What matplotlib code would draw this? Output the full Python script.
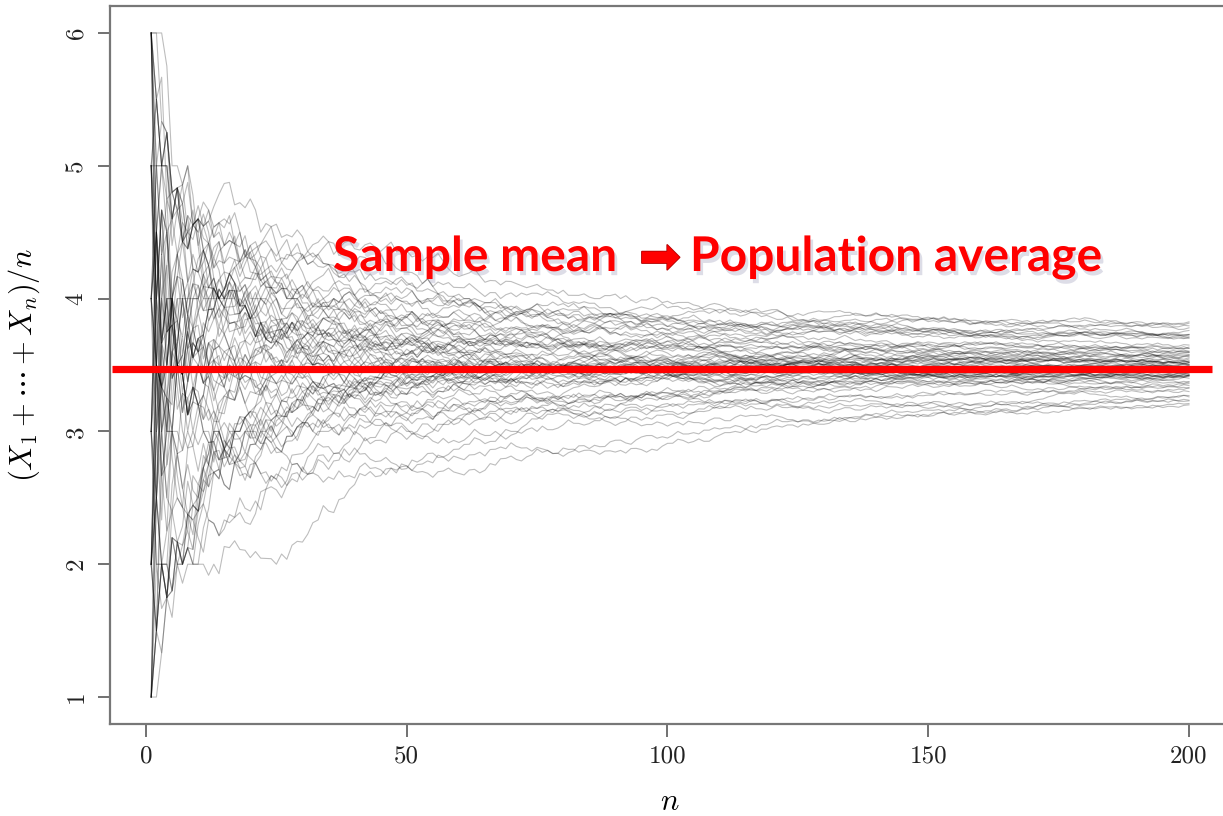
import numpy as np
import matplotlib.pyplot as plt
from matplotlib import patheffects as pe

# die rolls for each simulated sequence (200 rolls each, read left to right)
ROLLS = [
    "6645253614 3152634415 2465311362 2143125312 5163423564 "
    "1342651253 4621355214 5643625146 3214563521 6124353162 "
    "1324213521 4532616243 2356142531 5413623642 1265343152 "
    "3642153415 2312461123 5263146352 4153262514 3625143462",
    "1123141325 4532613462 3615242153 5463625416 2513462143 "
    "6341253615 2311423152 4653126341 1524363521 3462153264 "
    "5132646315 4656235461 2341563215 6153422634 1426353162 "
    "3514264513 2635141352 4361256341 5214363512 1653243426",
    "5645362465 4536461254 3612645135 6253465341 1625342153 "
    "6215432563 4653162546 5436212451 3654625461 3152463521 "
    "4156325162 5465254635 1645263415 3254165236 4562653465 "
    "2361532145 6345216341 2514635162 6453645265 3152641536",
    "2131423512 3121423512 4163215426 1321425132 6413215243 "
    "1232153412 2531462634 1254614136 2314321532 4163215265 "
    "3621451365 5342612635 4253162546 2615324631 5236142513 "
    "4641536125 1526314653 6425313624 4362514635 3152416352",
    "5536462645 6425354616 2134213531 3615242536 1423213152 "
    "6352413626 1342563415 5213462631 4652135142 3162543625 "
    "2514362143 3121241352 6453162413 2534613256 1462353164 "
    "5321462543 3615241362 5465634251 2143653162 4526131543",
    "2312133421 1521342312 4635214631 2463153125 5614326451 "
    "3125463514 6543562464 1352431625 4261356231 5134262543 "
    "2312431215 6243516134 3512462363 1463525142 4235163652 "
    "2641351436 5316242153 3624135261 1323142512 4156323641",
    "4352614263 5646354152 1632453614 2561342356 3415263154 "
    "6234152631 1213423513 5362461425 6455263465 2143561342 "
    "3625146351 4513262634 1354625136 4656354261 3261452153 "
    "5143626341 2356134625 6142353416 1635243514 4253162534",
    "2312541132 6453162534 4656352564 1243536142 3562413625 "
    "5143261346 2634152351 3121453121 4526316354 1362543162 "
    "6235143514 3416252631 5636452465 2154336241 4361252153 "
    "1322415123 5413626134 3265143562 1546232415 6324153462",
    "3562413146 2415362354 5463645264 1326541253 6545263564 "
    "2143652314 4361235162 5126343651 3254161425 4665352456 "
    "1342563216 6213454361 2536141352 4162353645 3514263142 "
    "5645246356 2361452134 6143253625 1425361543 3652142536",
    "4162534613 2311423521 5463125346 1326543152 3121425312 "
    "6352146235 2415362143 4136253514 1232153123 5643216342 "
    "3152463615 2634153421 6241356245 1453264133 2131524312 "
    "4526136254 3615243152 5143262634 2364153416 1536245263",
    "5645263546 3412563162 2536142435 6134256231 1423121352 "
    "4352613614 2613542356 5341263142 1562435263 3425162534 "
    "6213453146 4152634251 2365143612 5143262453 1634253126 "
    "3526141354 4215363462 6341252135 2453161634 5132463526",
    "6546352465 4635546215 2153462314 3561243625 1426353154 "
    "5646253465 2314561362 6132453241 4563656254 3215462153 "
    "1546232634 5362143516 6454365246 2143563152 4361252364 "
    "3516241435 1625343162 5465634526 2314653142 6253141536",
    "1213241312 2131523121 3122141532 4536126354 6241353162 "
    "1534262453 5362143615 4656356424 3125463142 2643151634 "
    "5216343525 1463252136 4352614263 6134253152 2546131634 "
    "3615242453 1352463126 5426135364 3261453142 4135262536",
    "2534613625 4163524152 6351243426 5464635256 1326451342 "
    "3542163615 2131422513 6245313462 1534263152 4362154236 "
    "6545362465 2153461324 3614253516 5231463142 1462535263 "
    "4315261634 6243152413 2561343526 3145262154 5632413462",
    "3121412523 5263146352 1231422131 6452313546 2143652431 "
    "1323125142 4561235162 3254161345 6132453624 2312143521 "
    "5416232653 1365243415 2213143123 4625136254 3152463162 "
    "6341253513 2563141426 4135263652 1652342315 3426153264",
    "6456345265 2314563142 5636452645 1253461326 4362153514 "
    "3145262634 6231452153 2564131462 1312421352 5463126341 "
    "3126543625 4253161436 1642353152 6315242463 5465364625 "
    "2136453142 3524161635 4613252341 1356243524 5241363156",
    "4251363625 1634252143 2311423152 5463126354 3152461362 "
    "6454356246 2136453125 4351262634 1562343152 3625141463 "
    "1231523213 6342153426 2513462153 5134263615 4261353142 "
    "1452636235 3614253162 6253141534 2345163426 5162433152",
    "5314263152 4656354264 2143562531 3625143416 6152432354 "
    "5465634625 1342563142 4261353516 2536141263 3121243151 "
    "5643126352 1354262413 6545463565 2413562136 3162453524 "
    "4531262643 1645233152 5236141364 3412563253 6143252415",
    "2132141533 5463126341 3152643625 1426353164 6341252513 "
    "4253163462 2615341354 1321243122 5463152634 3126543215 "
    "4352161463 6454365245 1263452136 3514263652 2461353142 "
    "5136242563 4325161534 2113421312 6345213625 1532463142",
    "3461523146 5656344625 1213421532 4362513526 2145362154 "
    "6314253463 1526341235 3452163614 5213462352 4631253146 "
    "2354161523 6142353642 1465232513 3521463164 5342161352 "
    "2613452436 4156323251 6235141634 1324563152 3542163426",
    "1312241325 5463126354 2153463162 3121412531 6245313642 "
    "1534263125 4362153514 2615341263 1232134121 5463152634 "
    "3126543462 4352161325 6134253162 2561342453 3415263154 "
    "2123141321 5362413625 1645232143 4253161536 3162453524",
    "6545363462 1342563152 2614353416 5456346526 3125461362 "
    "4362153215 1536242653 6455365246 2143562534 3615241362 "
    "5231463154 1462353625 4656254565 3124563142 6352141536 "
    "2415363462 5143262153 1634253524 4261352316 3526141463",
    "4635213462 1523463154 3162452613 2131422513 1312341221 "
    "5463126354 2154363162 6341253425 3526141632 5464635256 "
    "1342563152 4263151634 2615342453 6545463265 3125461342 "
    "5362143516 1436252634 4251363152 6134253425 2563141362",
    "5213426315 1231422132 6453126354 3162452613 5456346256 "
    "2143563142 4362153516 1635242453 3524161362 5216343625 "
    "2461353154 6134252463 1352463526 4615232143 3142563652 "
    "2563141435 6456354264 1325462153 4261353624 5143262316",
    "2463513152 1312341231 5462136354 3126543152 6251343624 "
    "1435262153 2121431512 4563126342 3152461635 6243153254 "
    "1536242613 5314263146 3121224131 2645313562 4153262435 "
    "6321452143 1462353625 5465634265 3241563152 2516341362",
    "3625141563 4152362435 6456354652 1234563142 3562143615 "
    "2415363152 5645463526 1362542413 6134253165 4253162634 "
    "2516341352 1321423121 5463126354 3152461326 4656354625 "
    "2143563142 6325141536 1462353264 5231462153 3614252416",
    "6465354625 2143563152 1312421253 5463126341 3121421312 "
    "6245313652 1534263142 4362153615 2615341362 5143262453 "
    "3526141634 1463252135 6352413264 2154363516 5646354265 "
    "3125462153 4361253142 1536242634 2312143121 5463152634",
    "1231421352 4562136354 3152463615 2614353142 5456346265 "
    "1342563152 6231452436 3615242153 4152363624 2563141352 "
    "5134263162 1462353645 3526142413 6341253152 2415363526 "
    "4136252613 5362143154 1253462436 3641253152 2516341463",
    "4656354264 1342563152 5646354625 2143563416 6545463526 "
    "3125461362 4362153514 5465634625 2615342153 1534263462 "
    "6456354265 3142563152 2461353624 5645463256 1362542413 "
    "6134253165 4253162634 5456346526 3216341352 2563141463",
    "3121412312 5463126342 2131421531 4362153615 1312341213 "
    "6245313152 2534163426 1231522131 5463152364 3126543142 "
    "5613426352 4352161635 6134253152 4361543625 2561342453 "
    "3415263164 5362413152 5621346325 4615232536 1253462134",
    "5361423152 2415363624 6134252153 3526141462 1462353514 "
    "4253162635 2614353142 5143262316 3615242453 1352463625 "
    "6231452134 4562136352 2153463164 3426151635 5314263142 "
    "1635242526 4261353153 6134253462 2543161324 3152463615",
    "2635141563 5646354265 6455363462 1342563152 3615242436 "
    "4152363154 2463151625 5314263142 1213421352 6245313642 "
    "3152463516 1534262453 4361253162 2615342635 5143262413 "
    "3526141352 2131421213 6452136354 1326543142 4253161536",
    "4 5631665246 3652544614 3552342614 1564536523 2546616356 "
    "1264631525 4423153166 3326515541 6415426435 5241434624 "
    "2513165453 6152344316 6652546316 1635244622 4362313535 "
    "3414421655 2641652635 2556532142 6243356213 1425263345",
    "52 3326515541 4226311533 5241434624 2513165453 5336615425 "
    "6152344316 1635244622 4362313535 3414421655 4523464516 "
    "2556532142 6243356213 1425263345 5334415262 3661152425 "
    "4116436253 2543362514 5331465242 2646112355 6115426433",
    "163 3112162451 6152344316 1635244622 1462655344 4362313535 "
    "3414421655 2556532142 6243356213 1425263345 5334415262 "
    "3645325165 3661152425 4116436253 2543362514 3652544614 "
    "5331465242 2646112355 6115426433 3552342614 1264631525",
    "3625 1564536523 3614626655 3414421655 2556532142 6243356213 "
    "6415426435 1425263345 5334415262 3661152425 2641652635 "
    "4116436253 2543362514 1153264242 5331465242 2646112355 "
    "6115426433 3552342614 1264631525 4423153166 3326515541",
    "21 3362342151 2264111531 1425263345 5334415262 3661152425 "
    "4116436253 2543362514 6114153324 5331465242 2646112355 "
    "6115426433 3552342614 1264631525 4423153166 3326515541 "
    "5241434624 5336615425 2513165453 6152344316 1635244622",
    "656 2546616356 6652546316 4116436253 4523464516 2543362514 "
    "5331465242 2646112355 1462655344 6115426433 3552342614 "
    "1264631525 4423153166 3645325165 3326515541 5241434624 "
    "2513165453 6152344316 3652544614 1635244622 4362313535",
    "1 2646112355 6115426433 1564536523 3552342614 1264631525 "
    "2235115461 4423153166 3326515541 5241434624 2513165453 "
    "6415426435 6152344316 1635244622 4362313535 3414421655 "
    "2556532142 2641652635 6243356213 1425263345 5334415262",
    "4362 5336615425 1264631525 4423153166 3326515541 5241434624 "
    "2513165453 6152344316 1635244622 4362313535 3414421655 "
    "2556532142 6243356213 1425263345 5334415262 3661152425 "
    "4116436253 2543362514 5331465242 2646112355 6115426433",
    "25 1135141262 5141422632 5241434624 2513165453 6152344316 "
    "1635244622 4362313535 3414421655 4523464516 2556532142 "
    "6243356213 1425263345 5334415262 3661152425 4116436253 "
    "2543362514 5331465242 2646112355 6115426433 3552342614",
    "61354 3614626655 1635244622 1462655344 4362313535 3414421655 "
    "3645325165 2556532142 6243356213 5631665246 1425263345 "
    "5334415262 3661152425 3652544614 4116436253 2543362514 "
    "5331465242 1564536523 2646112355 6115426433 3552342614",
    "3 2556532142 6415426435 6243356213 1425263345 5334415262 "
    "3661152425 4116436253 4226311533 2543362514 5331465242 "
    "2646112355 6115426433 3552342614 1264631525 4423153166 "
    "3326515541 5241434624 2513165453 6152344316 1635244622",
    "154 2641652635 5334415262 3661152425 5336615425 4116436253 "
    "2543362514 5331465242 4523464516 2646112355 6115426433 "
    "1462655344 3552342614 1264631525 4423153166 3645325165 "
    "3326515541 5241434624 2513165453 6152344316 1635244622",
    "62 1153264242 2543362514 5331465242 2646112355 3362342151 "
    "6115426433 3552342614 1264631525 4423153166 3326515541 "
    "6114153324 5241434624 2513165453 6152344316 1635244622 "
    "4362313535 3414421655 2556532142 6243356213 1425263345",
    "4514 6652546316 3652544614 3614626655 6115426433 3552342614 "
    "1564536523 1264631525 4423153166 3326515541 6415426435 "
    "5241434624 2513165453 6152344316 2641652635 1635244622 "
    "4362313535 3414421655 5336615425 2556532142 6243356213",
    "236 4423153166 3326515541 5241434624 2513165453 4523464516 "
    "6152344316 1635244622 4362313535 3414421655 2556532142 "
    "6243356213 1425263345 5334415262 3661152425 1462655344 "
    "4116436253 2543362514 5331465242 2646112355 6115426433",
    "5 3645325165 5631665246 2513165453 6152344316 3652544614 "
    "1635244622 4362313535 3414421655 2556532142 6243356213 "
    "1564536523 1425263345 5334415262 3661152425 4116436253 "
    "2543362514 5331465242 2646112355 6115426433 3552342614",
    "14 4121231651 4362313535 3414421655 6415426435 2556532142 "
    "6243356213 1425263345 2641652635 5334415262 3661152425 "
    "4116436253 2543362514 5331465242 2646112355 6115426433 "
    "3552342614 1264631525 4423153166 3326515541 5241434624",
    "63 2546616356 3614626655 5336615425 6243356213 1425263345 "
    "4523464516 5334415262 3661152425 1462655344 4116436253 "
    "2543362514 5331465242 3645325165 2646112355 6115426433 "
    "3552342614 3652544614 1264631525 4423153166 1564536523",
    "2416 3661152425 2235115461 4116436253 2543362514 5331465242 "
    "2646112355 5141422632 6115426433 3552342614 1264631525 "
    "4423153166 3326515541 5241434624 2513165453 6152344316 "
    "1635244622 4226311533 4362313535 3414421655 2556532142",
    "35 6415426435 5331465242 2641652635 2646112355 6115426433 "
    "3552342614 1264631525 5336615425 4423153166 3326515541 "
    "5241434624 2513165453 4523464516 6152344316 1635244622 "
    "4362313535 3414421655 2556532142 6243356213 1425263345",
    "612 5631665246 3552342614 1264631525 4423153166 3326515541 "
    "1462655344 5241434624 2513165453 6152344316 1635244622 "
    "4362313535 3414421655 2556532142 6243356213 1425263345 "
    "5334415262 3661152425 4116436253 2543362514 5331465242",
    "4 3326515541 5241434624 3645325165 2513165453 6152344316 "
    "1635244622 4362313535 3414421655 3652544614 2556532142 "
    "6243356213 1425263345 5334415262 3661152425 1564536523 "
    "4116436253 2543362514 5331465242 2646112355 6115426433",
    "5165 6652546316 5631665246 2546616356 6415426435 6152344316 "
    "1635244622 2641652635 4362313535 3414421655 5336615425 "
    "2556532142 6243356213 1425263345 4523464516 5334415262 "
    "3661152425 1462655344 4116436253 2543362514 5331465242",
    "32 1153264242 3414421655 2556532142 6243356213 1425263345 "
    "3645325165 5334415262 3661152425 4116436253 2543362514 "
    "5331465242 2646112355 6115426433 3552342614 1264631525 "
    "4423153166 3326515541 5241434624 2513165453 6152344316",
    "146 3652544614 1564536523 1425263345 5334415262 3661152425 "
    "4116436253 2543362514 5331465242 6415426435 2646112355 "
    "6115426433 3552342614 1264631525 4423153166 3326515541 "
    "5241434624 2513165453 2641652635 6152344316 1635244622",
    "5 4116436253 2543362514 5331465242 2646112355 6115426433 "
    "3552342614 1264631525 4423153166 3326515541 5241434624 "
    "2513165453 6152344316 1635244622 4362313535 3414421655 "
    "2556532142 6243356213 1425263345 5334415262 3661152425",
    "63 3614626655 2546616356 6652546316 5631665246 5336615425 "
    "2646112355 6115426433 3552342614 4523464516 1264631525 "
    "4423153166 3326515541 1462655344 5241434624 2513165453 "
    "6152344316 3645325165 1635244622 4362313535 3652544614",
    "2514 3112162451 1264631525 1564536523 4423153166 3326515541 "
    "5241434624 2513165453 6152344316 1635244622 4362313535 "
    "3414421655 2556532142 6243356213 1425263345 5334415262 "
    "3661152425 4116436253 2543362514 5331465242 2646112355",
    "36 6415426435 5241434624 2513165453 6152344316 1635244622 "
    "4362313535 3362342151 3414421655 2556532142 6243356213 "
    "1425263345 2641652635 5334415262 3661152425 4116436253 "
    "2543362514 5331465242 2646112355 5336615425 6115426433",
    "1 2546616356 4523464516 1635244622 4362313535 3414421655 "
    "2556532142 1462655344 6243356213 1425263345 5334415262 "
    "3661152425 4116436253 2543362514 5331465242 2646112355 "
    "6115426433 3552342614 1264631525 4423153166 3326515541",
    "452 6114153324 2556532142 6243356213 3645325165 1425263345 "
    "5334415262 3661152425 4116436253 2543362514 5331465242 "
    "2646112355 6115426433 3552342614 2235115461 1264631525 "
    "4423153166 3326515541 5241434624 2513165453 6152344316",
    "6 6652546316 3652544614 3614626655 5334415262 1564536523 "
    "3661152425 4116436253 2543362514 6415426435 5331465242 "
    "2646112355 6115426433 3552342614 2641652635 1264631525 "
    "4423153166 3326515541 5241434624 5336615425 2513165453",
]

POP_MEAN = 3.47          # red reference line, at the height drawn in the picture
LINE_X = (-6.5, 204.5)
X_TICKS = [0, 50, 100, 150, 200]
Y_TICKS = [1, 2, 3, 4, 5, 6]

TEXT_LEFT = "Sample mean"
TEXT_RIGHT = "Population average"


def running_mean(s):
    x = np.array([int(c) for c in s.replace(" ", "")])[:200]
    n = np.arange(1, len(x) + 1)
    return n, np.cumsum(x) / n


plt.rcParams['mathtext.fontset'] = 'cm'

W, H = 1223, 816
fig = plt.figure(figsize=(W / 100, H / 100), dpi=100)
ax = fig.add_axes([109.7 / W, 92.4 / H, 1120.8 / W, 717.2 / H])

for s in ROLLS:
    n, m = running_mean(s)
    ax.plot(n, m, color='black', alpha=0.26, lw=0.8)

ax.hlines(POP_MEAN, LINE_X[0], LINE_X[1], color='#ff0000', lw=5.2, zorder=5)

ax.set_xlim(-6.96, 207.96)
ax.set_ylim(0.8, 6.2)
ax.set_xticks(X_TICKS)
ax.set_xticklabels([str(v) for v in X_TICKS], fontfamily='cmr10', fontsize=18)
ax.set_yticks(Y_TICKS)
ax.set_yticklabels([str(v) for v in Y_TICKS], fontfamily='cmr10', fontsize=18,
                   rotation=90, va='center')
ax.tick_params(length=9, width=1.3, color='#666666', pad=7, labelcolor='#222222')
for sp in ax.spines.values():
    sp.set_color('#777777')
    sp.set_linewidth(1.6)

ax.set_xlabel(r'$n$', fontsize=22)
ax.xaxis.set_label_coords(0.5, -0.088)
ax.set_ylabel(r'$(X_1+\cdots+X_n)/n$', fontsize=22)
ax.yaxis.set_label_coords((42 - 109.7) / 1120.8, 0.5)

shadow = [pe.SimplePatchShadow(offset=(2, -3), shadow_rgbFace='#9090b0', alpha=0.3),
          pe.Normal()]
fig.text(333 / W, 1 - 271 / H, TEXT_LEFT, color='#ff0000', fontsize=34.5,
         fontfamily='Lato', fontweight='bold', va='baseline', path_effects=shadow)
fig.text(660 / W, 1 - 259 / H, "\u27a1", color='#ff0000', fontsize=36,
         fontfamily='DejaVu Sans', ha='center', va='center',
         path_effects=[pe.Stroke(linewidth=1.2, foreground='#b00000'), pe.Normal()])
fig.text(690 / W, 1 - 271 / H, TEXT_RIGHT, color='#ff0000', fontsize=34.5,
         fontfamily='Lato', fontweight='bold', va='baseline', path_effects=shadow)

fig.savefig('out.png', dpi=100, facecolor='white')
